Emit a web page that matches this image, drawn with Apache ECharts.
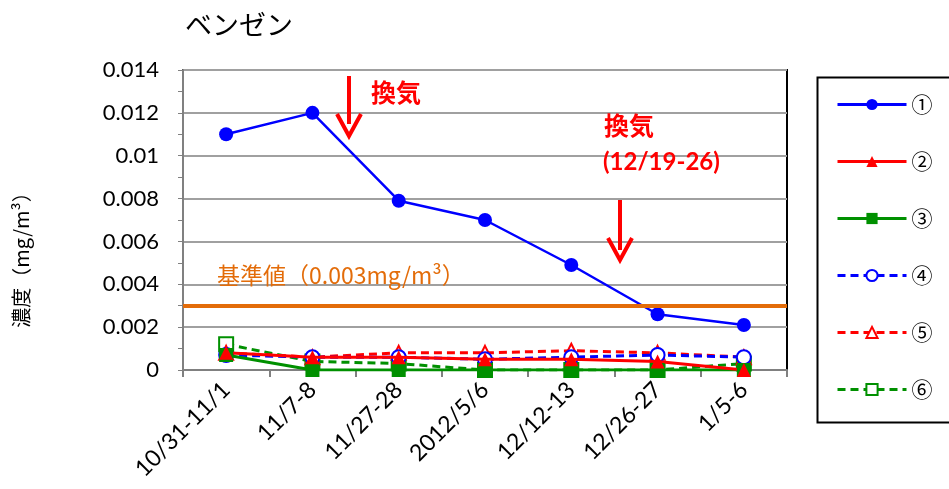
<!DOCTYPE html>
<html lang="ja">
<head>
<meta charset="utf-8">
<title>ベンゼン</title>
<script src="https://cdn.jsdelivr.net/npm/echarts@6/dist/echarts.min.js"></script>
<style>
  html, body { margin: 0; padding: 0; background: #fff; }
  #container { width: 949px; height: 489px; }
</style>
</head>
<body>
<div id="container"></div>
<script>
// 測定日
var days = ['10/31-11/1', '11/7-8', '11/27-28', '2012/5/6', '12/12-13', '12/26-27', '1/5-6'];
var names = ['①', '②', '③', '④', '⑤', '⑥'];
// 濃度 (mg/m3)
var s1 = [0.011, 0.012, 0.0079, 0.0070, 0.0049, 0.0026, 0.0021];
var s2 = [0.0008, 0.0006, 0.0006, 0.0005, 0.0005, 0.0004, 0.0];
var s3 = [0.0007, 0.0, 0.0, 0.0, 0.0, 0.0, 0.0];
var s4 = [0.0007, 0.0006, 0.0006, 0.0005, 0.0006, 0.0007, 0.0006];
var s5 = [0.0008, 0.0006, 0.0008, 0.0008, 0.0009, 0.0008, 0.0006];
var s6 = [0.0012, 0.0004, 0.0003, 0.0, 0.0, 0.0, 0.0003];
var limit = 0.003;
var yTicks = [0, 0.002, 0.004, 0.006, 0.008, 0.01, 0.012, 0.014];

var numFont = 'Lato, "Noto Sans CJK JP", sans-serif';
var jpFont = '"Noto Sans CJK JP", sans-serif';

function line(name, data, color, symbol, dashed, width) {
  return {
    name: name,
    type: 'line',
    data: data,
    symbol: symbol,
    symbolSize: 14,
    color: color,
    lineStyle: { color: color, width: width, type: dashed ? [8, 5] : 'solid' },
    itemStyle: { color: dashed ? '#fff' : color, borderColor: color, borderWidth: dashed ? 2 : 0 },
    z: dashed ? 3 : 4
  };
}

var series = [
  line(names[5], s6, '#009000', 'rect', true, 3),
  line(names[4], s5, '#ff0000', 'triangle', true, 3),
  line(names[3], s4, '#0000ff', 'circle', true, 3),
  line(names[2], s3, '#009000', 'rect', false, 3),
  line(names[1], s2, '#ff0000', 'triangle', false, 3),
  line(names[0], s1, '#0000ff', 'circle', false, 2.5)
];
// 基準値ライン
series[5].markLine = {
  silent: true,
  symbol: 'none',
  precision: 4,
  label: { show: false },
  lineStyle: { color: '#e36c09', width: 4, type: 'solid' },
  data: [{ yAxis: limit }]
};

var myChart = echarts.init(document.getElementById('container'));
var option = {
  animation: false,
  backgroundColor: '#fff',
  title: {
    text: 'ベンゼン',
    left: 180, top: 6,
    textStyle: { fontFamily: jpFont, fontSize: 27, fontWeight: 'normal', color: '#000' }
  },
  legend: {
    data: names,
    orient: 'vertical',
    left: 831, top: 89,
    itemWidth: 69, itemHeight: 14,
    itemGap: 36,
    lineStyle: { width: 3 },
    textStyle: { fontFamily: jpFont, fontSize: 21, color: '#000' }
  },
  grid: {
    left: 183, right: 162, top: 70, bottom: 119,
    show: true, borderColor: '#000', borderWidth: 2, backgroundColor: 'transparent'
  },
  xAxis: {
    type: 'category',
    data: days,
    boundaryGap: true,
    axisLine: { lineStyle: { color: '#808080', width: 2 } },
    axisTick: { show: true, length: 7, lineStyle: { color: '#808080', width: 2 } },
    axisLabel: { rotate: 45, margin: 16, fontFamily: numFont, fontSize: 23, color: '#000', interval: 0 }
  },
  yAxis: {
    type: 'value',
    min: yTicks[0], max: yTicks[yTicks.length - 1], interval: 0.002,
    axisLine: { show: true, lineStyle: { color: '#808080', width: 2 } },
    axisTick: { show: true, length: 5, lineStyle: { color: '#808080' } },
    minorTick: { show: true, splitNumber: 2, length: 5, lineStyle: { color: '#808080' } },
    axisLabel: { margin: 24, fontFamily: numFont, fontSize: 22, color: '#000' },
    splitLine: { lineStyle: { color: '#a0a0a0', width: 2 } }
  },
  graphic: [
    { type: 'rect', left: 815, top: 75, shape: { width: 200, height: 345 },
      style: { fill: 'none', stroke: '#000', lineWidth: 2 }, z: -1 },
    { type: 'text', x: 21, y: 255, rotation: Math.PI / 2, z: 10,
      style: { text: '濃度（mg/m³）', fill: '#000', font: '20px ' + jpFont,
               align: 'center', verticalAlign: 'middle' } },
    { type: 'text', left: 217, top: 264, z: 10,
      style: { text: '基準値（0.003mg/m³）', fill: '#e36c09', font: '23px ' + jpFont } },
    { type: 'line', shape: { x1: 349, y1: 76, x2: 349, y2: 124 },
      style: { stroke: '#ff0000', lineWidth: 4 }, z: 10 },
    { type: 'polyline', shape: { points: [[337, 114], [349, 136], [361, 114]] },
      style: { stroke: '#ff0000', lineWidth: 4, fill: 'none' }, z: 10 },
    { type: 'text', left: 371, top: 80, z: 10,
      style: { text: '換気', fill: '#ff0000', font: 'bold 25px ' + jpFont } },
    { type: 'line', shape: { x1: 620, y1: 200, x2: 620, y2: 250 },
      style: { stroke: '#ff0000', lineWidth: 4 }, z: 10 },
    { type: 'polyline', shape: { points: [[608, 238], [620, 260], [632, 238]] },
      style: { stroke: '#ff0000', lineWidth: 4, fill: 'none' }, z: 10 },
    { type: 'text', left: 604, top: 113, z: 10,
      style: { text: '換気', fill: '#ff0000', font: 'bold 25px ' + jpFont } },
    { type: 'text', left: 603, top: 150, z: 10,
      style: { text: '(12/19-26)', fill: '#ff0000', font: 'bold 24px ' + numFont } }
  ],
  series: series
};
myChart.setOption(option);
</script>
</body>
</html>
